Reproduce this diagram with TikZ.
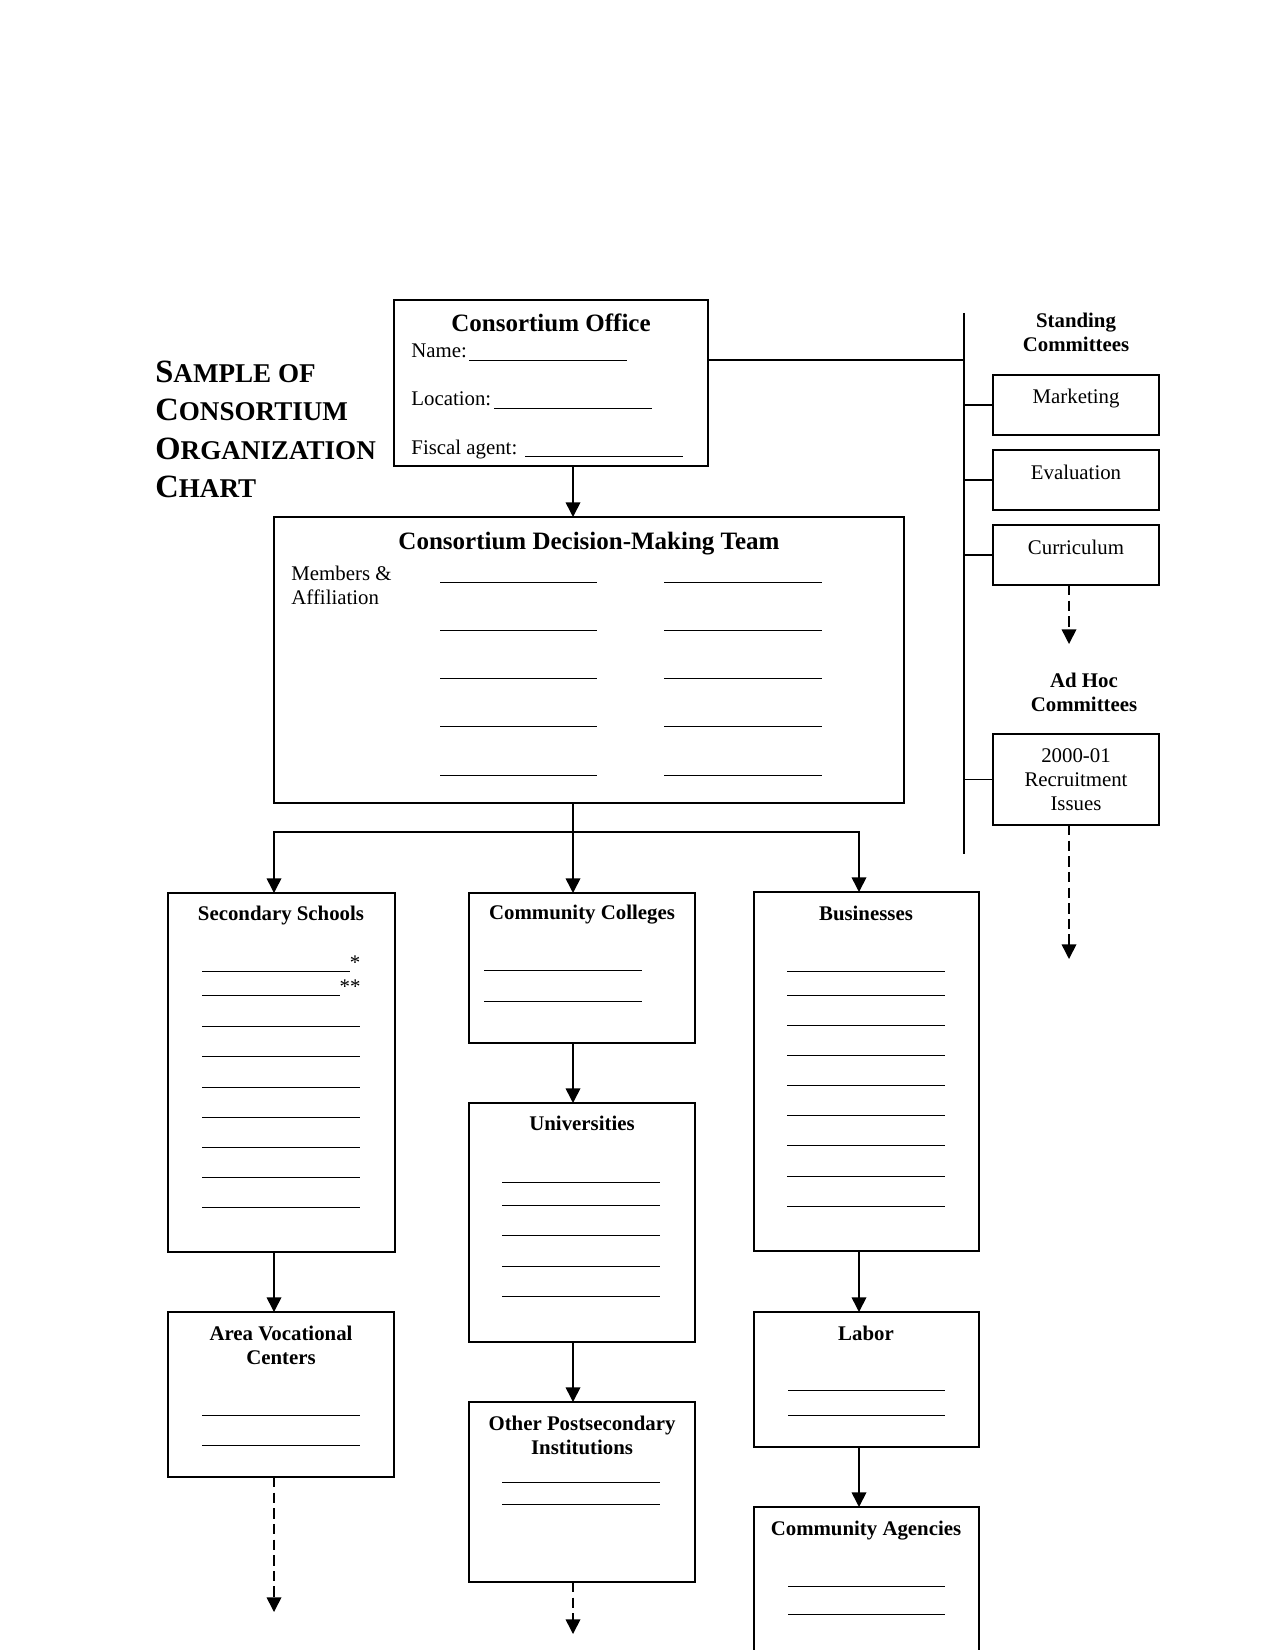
\documentclass[tikz,border=0pt]{standalone}
\usepackage{fontspec}
\setmainfont{Liberation Serif}
\usetikzlibrary{arrows.meta}
\newcommand\bx[5]{\node[boxst, minimum width={(#4-#2)*0.48pt}, minimum height={(#5-#3)*0.48pt}, anchor=north west] (#1) at (#2,#3) {};}
\newcommand\bl[3]{\draw[blank] (#1,#3) -- (#2,#3);}
\newcommand\bigc[1]{{\fontsize{15.6}{18}\selectfont #1}}
\newcommand\smc[1]{{\fontsize{13}{18}\selectfont #1}}
\begin{document}
\begin{tikzpicture}[x=0.48pt,y=-0.48pt,
  boxst/.style={draw, line width=1pt, inner sep=0pt, outer sep=0pt},
  conn/.style={line width=0.75pt},
  arr/.style={conn, -{Triangle[width=7pt,length=7pt]}},
  darr/.style={arr, dash pattern=on 5pt off 2.5pt},
  blank/.style={line width=0.4pt},
  ttl/.style={font=\bfseries\fontsize{10}{11.5}\selectfont, align=center, inner sep=0pt},
  big/.style={font=\bfseries\fontsize{12}{14}\selectfont, inner sep=0pt},
  txt/.style={font=\fontsize{10}{11.5}\selectfont, inner sep=0pt},
  head/.style={font=\bfseries, anchor=base west, inner sep=0pt}]
\useasboundingbox (0,0) rectangle (1275,1650);
\clip (0,0) rectangle (1275,1650);

% title
\node[head] (h1) at (155,383) {\bigc{S}\smc{AMPLE OF}};
\node[head] (h2) at (155,421) {\bigc{C}\smc{ONSORTIUM}};
\node[head] (h3) at (155,459) {\bigc{O}\smc{RGANIZATION}};
\node[head] (h4) at (155,497) {\bigc{C}\smc{HART}};

% boxes
\bx{office}{394}{300}{708}{466}
\bx{team}{274}{517}{904}{803}
\bx{mkt}{993}{375}{1159}{435}
\bx{eval}{993}{450}{1159}{510}
\bx{curr}{993}{525}{1159}{585}
\bx{recr}{993}{734}{1159}{825}
\bx{sec}{168}{893}{395}{1252}
\bx{cc}{469}{893}{695}{1043}
\bx{univ}{469}{1103}{695}{1342}
\bx{ops}{469}{1402}{695}{1582}
\bx{biz}{754}{892}{979}{1251}
\bx{avc}{168}{1312}{394}{1477}
\bx{labor}{754}{1312}{979}{1447}
\bx{cag}{754}{1507}{979}{1720}

% office content
\node[big] (officeT) at (551,323) {Consortium Office};
\node[txt, anchor=base west] (nameL) at (411,358) {Name:};
\node[txt, anchor=base west] (locL) at (411,406) {Location:};
\node[txt, anchor=base west] (fiscL) at (411,454) {Fiscal agent:};
\bl{469}{627}{360}
\bl{494}{652}{408}
\bl{525}{683}{456}

% team content
\node[big] (teamT) at (589,544) {Consortium Decision-Making Team};
\node[txt, anchor=base west] (memL) at (291,580) {Members \&};
\node[txt, anchor=base west] (affL) at (291,604) {Affiliation};
\foreach \y in {582,630,678,726,775}{\bl{440}{597}{\y}\bl{664}{822}{\y}}

% committees
\node[ttl] (stand) at (1076,332) {Standing\\Committees};
\node[txt] (mktT) at (1076,399) {Marketing};
\node[txt] (evalT) at (1076,472) {Evaluation};
\node[txt] (currT) at (1076,547) {Curriculum};
\node[ttl] (adhoc) at (1084,692) {Ad Hoc\\Committees};
\node[txt, align=center] (recrT) at (1076,780) {2000-01\\Recruitment\\Issues};

% bus
\coordinate (busT) at (964,313);
\coordinate (busB) at (964,854);
\coordinate (busO) at (964,360);
\draw[conn] (busT) -- (busB);
\draw[conn] (office.east |- busO) -- (busO);
\draw[conn] (busT |- mkt.west) -- (mkt.west);
\draw[conn] (busT |- eval.west) -- (eval.west);
\draw[conn] (busT |- curr.west) -- (curr.west);
\draw[conn] (busT |- recr.west) -- (recr.west);
\coordinate (adTip) at (1069,644);
\coordinate (rTip) at (1069,959);
\draw[darr] (curr.south -| adTip) -- (adTip);
\draw[darr] (recr.south -| rTip) -- (rTip);

% tree
\coordinate (la) at (274,832);
\coordinate (lb) at (573,832);
\coordinate (lc) at (859,832);
\draw[arr] (office.south -| lb) -- (team.north -| lb);
\draw[arr] (team.south -| lb) -- (lb) -- (la) -- (sec.north -| la);
\draw[arr] (la) -- (lc) -- (biz.north -| lc);
\draw[arr] (lb) -- (cc.north -| lb);
\draw[arr] (sec.south -| la) -- (avc.north -| la);
\draw[arr] (cc.south -| lb) -- (univ.north -| lb);
\draw[arr] (univ.south -| lb) -- (ops.north -| lb);
\draw[arr] (biz.south -| lc) -- (labor.north -| lc);
\draw[arr] (labor.south -| lc) -- (cag.north -| lc);
\coordinate (avTip) at (274,1612);
\coordinate (opTip) at (573,1634);
\draw[darr] (avc.south -| avTip) -- (avTip);
\draw[darr] (ops.south -| opTip) -- (opTip);

% secondary schools
\node[ttl] (secT) at (281,916) {Secondary Schools};
\bl{202}{350}{971}
\bl{202}{340}{995}
\node[txt] (st1) at (355,963) {*};
\node[txt] (st2) at (350,987) {**};
\foreach \y in {1026,1056,1087,1117,1147,1177,1207}{\bl{202}{360}{\y}}

% community colleges
\node[ttl] (ccT) at (582,915) {Community Colleges};
\bl{484}{642}{970}
\bl{484}{642}{1001}

% universities
\node[ttl] (univT) at (582,1123) {Universities};
\foreach \y in {1182,1205,1235,1266,1296}{\bl{502}{660}{\y}}

% other postsecondary
\node[ttl] (opsT) at (582,1435) {Other Postsecondary\\Institutions};
\bl{502}{660}{1482}
\bl{502}{660}{1504}

% businesses
\node[ttl] (bizT) at (866,913) {Businesses};
\foreach \y in {971,995,1025,1055,1085,1115,1145,1176,1206}{\bl{787}{945}{\y}}

% area vocational
\node[ttl] (avcT) at (281,1345) {Area Vocational\\Centers};
\bl{202}{360}{1415}
\bl{202}{360}{1445}

% labor
\node[ttl] (laborT) at (866,1333) {Labor};
\bl{788}{945}{1390}
\bl{788}{945}{1415}

% community agencies
\node[ttl] (cagT) at (866,1531) {Community Agencies};
\bl{788}{945}{1586}
\bl{788}{945}{1614}
\end{tikzpicture}
\end{document}
